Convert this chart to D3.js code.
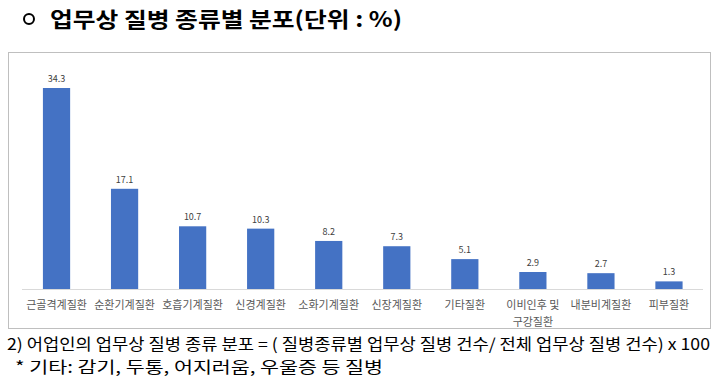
<!DOCTYPE html>
<html>
<head>
<meta charset="utf-8">
<script src="https://cdn.jsdelivr.net/npm/d3@7"></script>
<style>
  body { margin: 0; background: #fff; }
  text { font-family: "Noto Sans CJK KR", "Noto Sans", sans-serif; }
</style>
</head>
<body>
<div id="chart"></div>
<script>
  const width = 720, height = 379;

  // 데이터
  const categories = ["근골격계질환", "순환기계질환", "호흡기계질환", "신경계질환", "소화기계질환",
    "신장계질환", "기타질환", "이비인후 및\n구강질환", "내분비계질환", "피부질환"];
  const values = [34.3, 17.1, 10.7, 10.3, 8.2, 7.3, 5.1, 2.9, 2.7, 1.3];

  const svg = d3.select("#chart").append("svg")
    .attr("width", width)
    .attr("height", height);

  // 제목
  svg.append("circle")
    .attr("cx", 29).attr("cy", 19).attr("r", 5)
    .attr("fill", "none").attr("stroke", "#000").attr("stroke-width", 2);
  svg.append("text")
    .attr("x", 50).attr("y", 27)
    .attr("font-size", 21).attr("font-weight", "bold")
    .attr("textLength", 352).attr("lengthAdjust", "spacingAndGlyphs")
    .text("업무상 질병 종류별 분포(단위 : %)");

  // 차트 박스
  svg.append("rect")
    .attr("x", 8.5).attr("y", 52.5).attr("width", 702).attr("height", 276)
    .attr("fill", "#fff").attr("stroke", "#bfbfbf").attr("stroke-width", 1);

  const baseY = 289;
  const x = d3.scaleBand()
    .domain(categories)
    .range([22.5, 703])
    .paddingInner(0.6)
    .paddingOuter(0.3);

  const y = d3.scaleLinear()
    .domain([0, 34.3])
    .range([baseY, 88]);

  // 축선
  svg.append("line")
    .attr("x1", 22).attr("x2", 703)
    .attr("y1", baseY + 0.5).attr("y2", baseY + 0.5)
    .attr("stroke", "#d9d9d9");

  // 막대
  svg.selectAll("rect.bar")
    .data(values)
    .enter().append("rect")
    .attr("class", "bar")
    .attr("x", (d, i) => x(categories[i]))
    .attr("y", d => y(d))
    .attr("width", x.bandwidth())
    .attr("height", d => baseY - y(d))
    .attr("fill", "#4472c4");

  // 값 라벨
  svg.selectAll("text.val")
    .data(values)
    .enter().append("text")
    .attr("class", "val")
    .attr("x", (d, i) => x(categories[i]) + x.bandwidth() / 2)
    .attr("y", d => y(d) - 6)
    .attr("text-anchor", "middle")
    .attr("font-size", 9)
    .attr("fill", "#404040")
    .text(d => d.toFixed(1));

  // 카테고리 라벨
  const lab = svg.selectAll("text.cat")
    .data(categories)
    .enter().append("text")
    .attr("class", "cat")
    .attr("x", d => x(d) + x.bandwidth() / 2)
    .attr("y", 309)
    .attr("text-anchor", "middle")
    .attr("font-size", 11)
    .attr("fill", "#595959");
  lab.each(function (d) {
    const lines = d.split("\n");
    d3.select(this).selectAll("tspan")
      .data(lines)
      .enter().append("tspan")
      .attr("x", x(d) + x.bandwidth() / 2)
      .attr("dy", (l, i) => i === 0 ? 0 : 17)
      .text(l => l);
  });

  // 주석
  svg.append("text")
    .attr("x", 7).attr("y", 350)
    .attr("font-size", 16)
    .attr("fill", "#000")
    .attr("textLength", 703).attr("lengthAdjust", "spacingAndGlyphs")
    .text("2)  어업인의 업무상 질병 종류 분포 = ( 질병종류별 업무상 질병 건수/ 전체 업무상 질병 건수) x 100");
  svg.append("text")
    .attr("x", 15).attr("y", 373)
    .attr("font-size", 16)
    .attr("fill", "#000")
    .attr("textLength", 368).attr("lengthAdjust", "spacingAndGlyphs")
    .text("*  기타: 감기, 두통, 어지러움, 우울증  등  질병");
</script>
</body>
</html>
